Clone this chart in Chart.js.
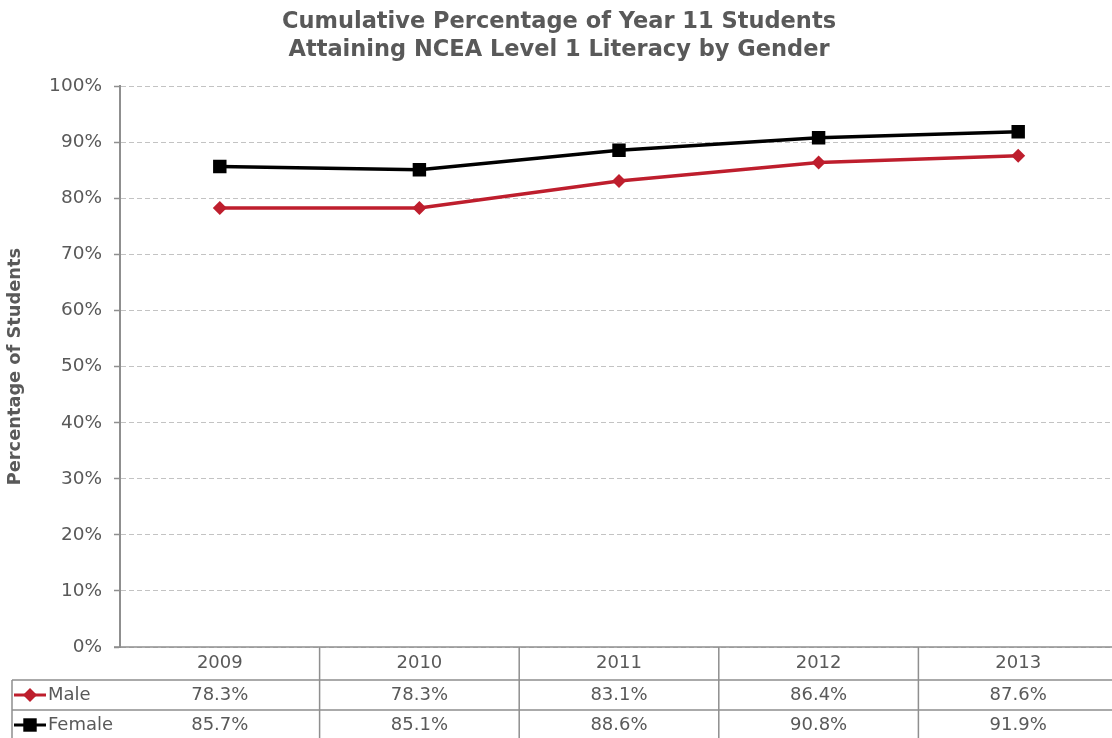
<!DOCTYPE html>
<html>
<head>
<meta charset="utf-8">
<script src="https://cdn.jsdelivr.net/npm/chart.js@4"></script>
<style>
  html, body { margin: 0; padding: 0; background: #fff; overflow: hidden; }
  #wrap { width: 1112px; height: 738px; overflow: hidden; }
</style>
</head>
<body>
<div id="wrap"><canvas id="chart" width="1118" height="738"></canvas></div>
<script>
const years = ['2009', '2010', '2011', '2012', '2013'];
const maleValues = [78.3, 78.3, 83.1, 86.4, 87.6];
const femaleValues = [85.7, 85.1, 88.6, 90.8, 91.9];
const yTicks = [0, 10, 20, 30, 40, 50, 60, 70, 80, 90, 100];

const FONT = 'DejaVu Sans, Verdana, sans-serif';
const TEXT = '#595959';
const BORDER = '#8f8f8f';

// draws the data table under the plot, lined up with the category scale
const dataTable = {
  id: 'dataTable',
  afterDraw(chart) {
    const { ctx, chartArea, scales } = chart;
    const x = scales.x;
    const bottom = chart.height;
    const right = chart.width;
    const top = chartArea.bottom;
    const row1 = top + 33, row2 = row1 + 30;
    const step = (chartArea.right - chartArea.left) / years.length;

    ctx.save();
    ctx.strokeStyle = BORDER;
    ctx.lineWidth = 1.5;
    ctx.beginPath();
    ctx.moveTo(chartArea.left - 6, top); ctx.lineTo(right, top);
    ctx.moveTo(12, row1); ctx.lineTo(right, row1);
    ctx.moveTo(12, row2); ctx.lineTo(right, row2);
    ctx.moveTo(12, row1); ctx.lineTo(12, bottom);
    for (let i = 1; i < years.length; i++) {
      const lx = chartArea.left + step * i;
      ctx.moveTo(lx, top); ctx.lineTo(lx, bottom);
    }
    ctx.stroke();

    ctx.fillStyle = TEXT;
    ctx.font = '18px ' + FONT;
    ctx.textAlign = 'center';
    ctx.textBaseline = 'middle';
    const rows = [
      { y: (top + row1) / 2, vals: years.map(String) },
      { y: (row1 + row2) / 2, vals: maleValues.map(v => v.toFixed(1) + '%') },
      { y: (row2 + bottom) / 2 + 1, vals: femaleValues.map(v => v.toFixed(1) + '%') },
    ];
    rows.forEach(r => r.vals.forEach((t, i) => ctx.fillText(t, x.getPixelForValue(i), r.y)));

    // legend keys in the first column
    const keys = [
      { y: rows[1].y, label: 'Male', ds: chart.data.datasets[0] },
      { y: rows[2].y, label: 'Female', ds: chart.data.datasets[1] },
    ];
    keys.forEach(k => {
      ctx.strokeStyle = k.ds.borderColor;
      ctx.lineWidth = 3;
      ctx.beginPath();
      ctx.moveTo(14, k.y); ctx.lineTo(46, k.y);
      ctx.stroke();
      ctx.fillStyle = k.ds.borderColor;
      Chart.helpers.drawPoint(ctx, { pointStyle: k.ds.pointStyle, radius: k.ds.pointRadius, borderWidth: 0 }, 30, k.y);
      ctx.fillStyle = TEXT;
      ctx.textAlign = 'left';
      ctx.fillText(k.label, 48, k.y);
    });
    ctx.restore();
  }
};

new Chart(document.getElementById('chart'), {
  type: 'line',
  data: {
    labels: years,
    datasets: [
      {
        label: 'Male',
        data: maleValues,
        borderColor: '#be1e2d',
        backgroundColor: '#be1e2d',
        borderWidth: 3.5,
        pointStyle: 'rectRot',
        pointRadius: 7,
        pointBorderWidth: 0,
      },
      {
        label: 'Female',
        data: femaleValues,
        borderColor: '#000000',
        backgroundColor: '#000000',
        borderWidth: 3.5,
        pointStyle: 'rect',
        pointRadius: 9.5,
        pointBorderWidth: 0,
      },
    ],
  },
  options: {
    responsive: false,
    animation: false,
    layout: { autoPadding: false, padding: 0 },
    scales: {
      x: {
        offset: true,
        ticks: { display: false },
        grid: { display: false },
        border: { display: false },
        afterFit: s => { s.height = 91; },
      },
      y: {
        min: 0,
        max: 100,
        afterBuildTicks: s => { s.ticks = yTicks.map(v => ({ value: v })); },
        ticks: {
          color: TEXT,
          font: { family: FONT, size: 18.5 },
          padding: 12,
          callback: v => v + '%',
        },
        grid: {
          color: '#c3c3c3',
          tickLength: 6,
          tickColor: BORDER,
          tickBorderDash: [],
          tickWidth: 1.5,
        },
        border: { color: BORDER, width: 2, dash: [5, 3] },
        title: {
          display: true,
          text: 'Percentage of Students',
          color: TEXT,
          font: { family: FONT, size: 17.8, weight: 'bold' },
          padding: { top: 5, bottom: 0 },
        },
        afterFit: s => { s.width = 120; },
      },
    },
    plugins: {
      legend: { display: false },
      tooltip: { enabled: false },
      title: {
        display: true,
        text: ['Cumulative Percentage of Year 11 Students', 'Attaining NCEA Level 1 Literacy by Gender'],
        color: TEXT,
        font: { family: FONT, size: 22.5, weight: 'bold', lineHeight: 1.25 },
        padding: { top: 8, bottom: 22 },
      },
    },
  },
  plugins: [dataTable],
});
</script>
</body>
</html>
